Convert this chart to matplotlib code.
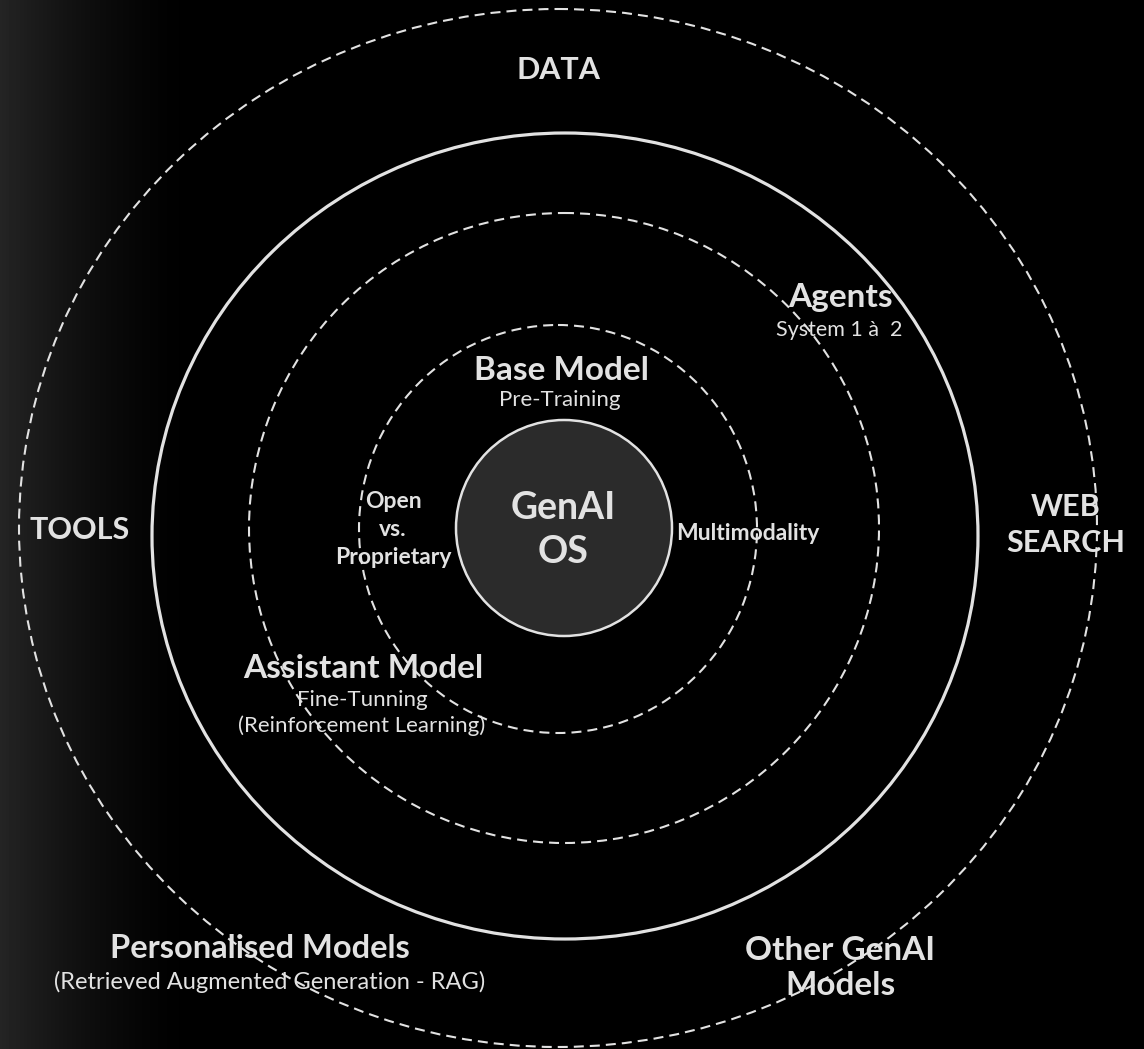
import numpy as np
import matplotlib
matplotlib.use("Agg")
import matplotlib.pyplot as plt
from matplotlib.patches import Ellipse, Circle

# ring labels (outer ring first)
outer_labels = ["DATA", "TOOLS", "WEB\nSEARCH", "Other GenAI\nModels", "Personalised Models"]
outer_sub = ["(Retrieved Augmented Generation - RAG)"]
middle_labels = ["Agents", "Assistant Model"]
middle_sub = ["System 1 à  2", "Fine-Tunning\n(Reinforcement Learning)"]
inner_labels = ["Base Model", "Open\nvs.\nProprietary", "Multimodality"]
inner_sub = ["Pre-Training"]
core_label = "GenAI\nOS"

W, H = 1144, 1049
FG = "#e2e2e2"
FONT = ["Lato", "DejaVu Sans"]

fig = plt.figure(figsize=(W / 100, H / 100), dpi=100, facecolor="black")
ax = fig.add_axes([0, 0, 1, 1])
ax.set_xlim(0, W)
ax.set_ylim(H, 0)
ax.set_aspect("equal")
ax.axis("off")
ax.set_facecolor("black")

# faint dusty glow on the left edge
grad = np.linspace(1, 0, 200) ** 1.6
ax.imshow(np.tile(grad, (H, 1)), extent=(0, 200, H, 0), cmap="gray",
          vmin=0, vmax=7, aspect="auto", zorder=0)

dash = (0, (4.8, 2.9))
ax.add_patch(Ellipse((558, 528), 1078, 1038, fill=False, ec=FG, lw=1.5, ls=dash, zorder=2))
ax.add_patch(Ellipse((565, 536), 826, 806, fill=False, ec=FG, lw=2.3, zorder=2))
ax.add_patch(Circle((564, 528), 315, fill=False, ec=FG, lw=1.5, ls=dash, zorder=2))
ax.add_patch(Ellipse((558, 529), 398, 408, fill=False, ec=FG, lw=1.5, ls=dash, zorder=2))
ax.add_patch(Circle((564, 528), 108, fc="#2b2b2b", ec=FG, lw=1.8, zorder=3))


def label(x, y, s, size, weight="bold", pitch=0):
    # one text per line so the line pitch matches the picture
    lines = s.split("\n")
    y0 = y - pitch * (len(lines) - 1) / 2
    for i, ln in enumerate(lines):
        ax.text(x, y0 + i * pitch, ln, color=FG, fontsize=size, fontweight=weight,
                family=FONT, ha="center", va="center", zorder=4)


# outer ring
label(558, 70, outer_labels[0], 22)
label(80, 530, outer_labels[1], 22)
label(1066, 525, outer_labels[2], 22, pitch=35)
label(840, 968, outer_labels[3], 24, pitch=35)
label(260, 948, outer_labels[4], 23.5)
label(270, 982, outer_sub[0], 17, weight="normal")

# middle ring
label(841, 298, middle_labels[0], 24)
label(839, 330, middle_sub[0], 15.5, weight="normal")
label(363, 668, middle_labels[1], 24)
label(362, 713, middle_sub[1], 16, weight="normal", pitch=26)

# inner ring
label(562, 370, inner_labels[0], 24)
label(560, 400, inner_sub[0], 16, weight="normal")
label(393, 530, inner_labels[1], 16.5, pitch=28)
label(748, 533, inner_labels[2], 16.5)

label(563, 530, core_label, 27, pitch=44)

fig.savefig("out.png", dpi=100, facecolor="black")
